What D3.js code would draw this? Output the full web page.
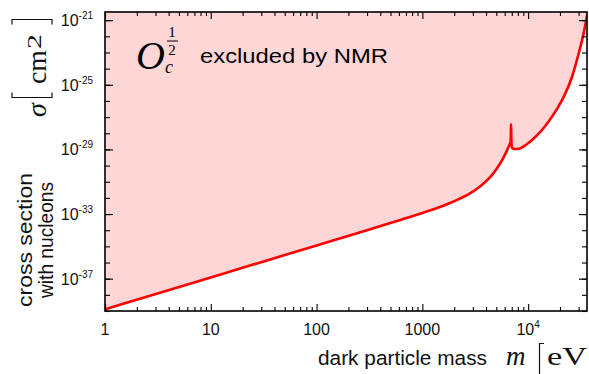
<!DOCTYPE html>
<html>
<head>
<meta charset="utf-8">
<script src="https://cdn.jsdelivr.net/npm/d3@7"></script>
<style>
  body { margin: 0; background: #fff; }
  svg { display: block; }
  .sans { font-family: "Liberation Sans", Arial, Helvetica, sans-serif; }
  .serif { font-family: "Liberation Serif", "Times New Roman", serif; }
</style>
</head>
<body>
<svg id="chart" width="589" height="374"></svg>
<script>
// dark particle mass in eV, and the NMR bound on the cross section (cm^2)
const massEV = [1, 10, 100, 316, 631, 1000, 1380, 1710, 2240, 2840,
  3310, 3790, 4390, 5010, 5860, 6310, 6700, 6820, 6870, 6890,
  6920, 6980, 7110, 7410, 7830, 8510, 9060, 10000, 11480, 13030,
  15490, 18750, 21680, 26000, 30060, 33500, 36000, 37000];
const sigmaCm2 = [1.26e-39, 1.2e-37, 1.15e-35, 1.12e-34, 4.5e-34, 1.17e-33, 2.4e-33, 4.07e-33, 8.7e-33, 1.95e-32,
  3.8e-32, 7.8e-32, 2.0e-31, 6.0e-31, 3.24e-30, 8.7e-30, 2.2e-29, 3.0e-29, 1.26e-28, 3.55e-28,
  1.0e-28, 1.6e-29, 1.2e-29, 1.07e-29, 1.07e-29, 1.2e-29, 1.55e-29, 2.4e-29, 5.25e-29, 1.2e-28,
  5.0e-28, 3.24e-27, 1.78e-26, 3.16e-25, 8.9e-24, 1.58e-22, 1.78e-21, 4.5e-21];

// tick labels
const xMajor = [1, 10, 100, 1000, 10000];
const xLabels = [["1", ""], ["10", ""], ["100", ""], ["1000", ""], ["10", "4"]];
const yMajorExp = [-21, -25, -29, -33, -37];
const yMinorExp = d3.range(-39, -20);

const data = massEV.map((m, i) => ({ m: m, s: sigmaCm2[i] }));

const svg = d3.select("#chart");
const pLeft = 105, pRight = 587, pTop = 12, pBottom = 311;

const x = d3.scaleLog().domain([1, 36000]).range([pLeft, pRight]);
const y = d3.scaleLog().domain([1e-39, 3.2e-21]).range([pBottom, pTop]);

svg.append("clipPath").attr("id", "plot")
  .append("rect")
  .attr("x", pLeft).attr("y", pTop)
  .attr("width", pRight - pLeft).attr("height", pBottom - pTop);

const g = svg.append("g").attr("clip-path", "url(#plot)");

// excluded region: everything above the curve
g.append("path")
  .datum(data)
  .attr("fill", "#ffd6d6")
  .attr("d", d3.area()
    .x(d => x(d.m))
    .y0(pTop)
    .y1(d => y(d.s))
    .curve(d3.curveMonotoneX));

g.append("path")
  .datum(data)
  .attr("fill", "none")
  .attr("stroke", "#ff0000")
  .attr("stroke-width", 2.6)
  .attr("stroke-linejoin", "round")
  .attr("d", d3.line()
    .x(d => x(d.m))
    .y(d => y(d.s))
    .curve(d3.curveMonotoneX));

// ticks on all four sides, pointing inward
const xMinor = x.ticks().filter(v => xMajor.indexOf(v) < 0);
const yMinor = yMinorExp.map(e => Math.pow(10, e));
const yMajor = yMajorExp.map(e => Math.pow(10, e));

function tickAxis(axis, pos, vals, len) {
  const a = svg.append("g")
    .attr("transform", pos)
    .call(axis.tickValues(vals).tickSizeInner(-len).tickSizeOuter(0).tickFormat(""));
  a.select(".domain").remove();
  a.selectAll(".tick line").attr("stroke", "#000").attr("stroke-width", 1.1);
  return a;
}

tickAxis(d3.axisBottom(x), `translate(0,${pBottom})`, xMinor, 4);
tickAxis(d3.axisBottom(x), `translate(0,${pBottom})`, xMajor, 7);
tickAxis(d3.axisTop(x), `translate(0,${pTop})`, xMinor, 4);
tickAxis(d3.axisTop(x), `translate(0,${pTop})`, xMajor, 7);
tickAxis(d3.axisLeft(y), `translate(${pLeft},0)`, yMinor, 5);
tickAxis(d3.axisLeft(y), `translate(${pLeft},0)`, yMajor, 8);
tickAxis(d3.axisRight(y), `translate(${pRight},0)`, yMinor, 5);
tickAxis(d3.axisRight(y), `translate(${pRight},0)`, yMajor, 8);

// frame
svg.append("rect")
  .attr("x", pLeft).attr("y", pTop)
  .attr("width", pRight - pLeft).attr("height", pBottom - pTop)
  .attr("fill", "none")
  .attr("stroke", "#000")
  .attr("stroke-width", 1.6);

// x tick labels
const xl = svg.selectAll(".xl")
  .data(xMajor)
  .join("text")
  .attr("class", "xl sans")
  .attr("x", d => x(d))
  .attr("y", 335)
  .attr("text-anchor", "middle")
  .attr("font-size", 16)
  .attr("fill", "#111");
xl.append("tspan").text((d, i) => xLabels[i][0]);
xl.append("tspan")
  .attr("font-size", 10)
  .attr("dy", -7)
  .text((d, i) => xLabels[i][1]);

// y tick labels
const yl = svg.selectAll(".yl")
  .data(yMajorExp)
  .join("text")
  .attr("class", "yl sans")
  .attr("x", 93)
  .attr("y", d => y(Math.pow(10, d)) + 6)
  .attr("text-anchor", "end")
  .attr("font-size", 16)
  .attr("fill", "#111");
yl.append("tspan").text("10");
yl.append("tspan")
  .attr("font-size", 10)
  .attr("dy", -7)
  .text(d => "-" + Math.abs(d));

// x axis title
svg.append("text").attr("class", "sans")
  .attr("x", 318).attr("y", 365).attr("font-size", 20.5).attr("fill", "#111")
  .attr("textLength", 169).attr("lengthAdjust", "spacingAndGlyphs")
  .text("dark particle mass");
svg.append("text").attr("class", "serif").attr("font-style", "italic")
  .attr("x", 506).attr("y", 365).attr("font-size", 27).attr("fill", "#111")
  .text("m");
svg.append("path")
  .attr("d", "M544,343.5H539.5V374")
  .attr("fill", "none").attr("stroke", "#111").attr("stroke-width", 1.2);
svg.append("text").attr("class", "serif")
  .attr("x", 547).attr("y", 365).attr("font-size", 26).attr("fill", "#111")
  .attr("textLength", 40).attr("lengthAdjust", "spacingAndGlyphs")
  .text("eV");

// y axis title (rotated)
function rotText(cls, tx, ty, size, txt) {
  return svg.append("text")
    .attr("class", cls)
    .attr("transform", `translate(${tx},${ty}) rotate(-90)`)
    .attr("font-size", size)
    .attr("fill", "#111")
    .text(txt);
}
rotText("serif", 46, 117, 28, "σ").attr("font-style", "italic");
svg.append("path")
  .attr("d", "M12,92.5V97.5H52V92.5")
  .attr("fill", "none").attr("stroke", "#111").attr("stroke-width", 1.2);
rotText("serif", 46, 84, 28, "cm").attr("textLength", 34).attr("lengthAdjust", "spacingAndGlyphs");
rotText("serif", 41, 49, 19, "2").attr("textLength", 15).attr("lengthAdjust", "spacingAndGlyphs");
svg.append("path")
  .attr("d", "M12,24.5V19.5H52V24.5")
  .attr("fill", "none").attr("stroke", "#111").attr("stroke-width", 1.2);

rotText("sans", 32, 240, 21, "cross section")
  .attr("text-anchor", "middle")
  .attr("textLength", 134).attr("lengthAdjust", "spacingAndGlyphs");
rotText("sans", 53, 240, 21, "with nucleons")
  .attr("text-anchor", "middle")
  .attr("textLength", 116).attr("lengthAdjust", "spacingAndGlyphs");

// legend label
const lg = svg.append("g").attr("fill", "#000");
lg.append("text").attr("class", "serif").attr("font-style", "italic")
  .attr("x", 136).attr("y", 69).attr("font-size", 40).text("O");
lg.append("text").attr("class", "serif").attr("font-style", "italic")
  .attr("x", 165).attr("y", 73).attr("font-size", 18).text("c");
lg.append("text").attr("class", "serif").attr("text-anchor", "middle")
  .attr("x", 172).attr("y", 37).attr("font-size", 15).text("1");
lg.append("line")
  .attr("x1", 167).attr("x2", 178).attr("y1", 41).attr("y2", 41)
  .attr("stroke", "#000").attr("stroke-width", 1);
lg.append("text").attr("class", "serif").attr("text-anchor", "middle")
  .attr("x", 172).attr("y", 55).attr("font-size", 15).text("2");
lg.append("text").attr("class", "sans")
  .attr("x", 200).attr("y", 63).attr("font-size", 21)
  .attr("textLength", 188).attr("lengthAdjust", "spacingAndGlyphs")
  .text("excluded by NMR");
</script>
</body>
</html>
